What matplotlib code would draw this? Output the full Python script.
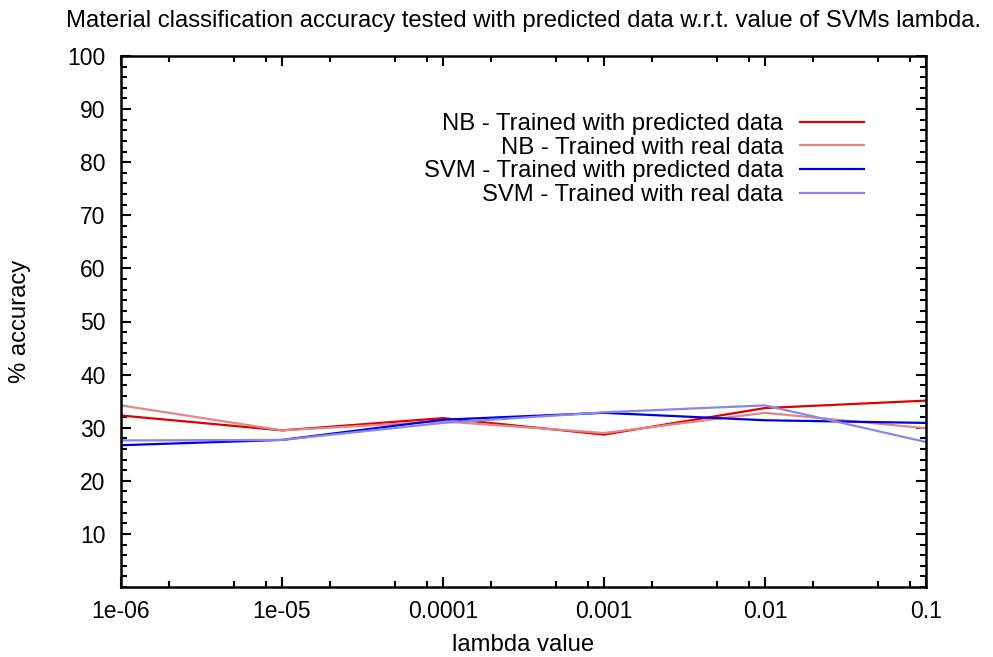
import numpy as np
import matplotlib
matplotlib.use("Agg")
import matplotlib.pyplot as plt
import matplotlib.ticker as mticker

plt.rcParams['font.family'] = ['Liberation Sans', 'DejaVu Sans']

# lambda values of the SVM
lambdas = [1e-06, 1e-05, 1e-04, 1e-03, 1e-02, 1e-01]
tick_labels = ['1e-06', '1e-05', '0.0001', '0.001', '0.01', '0.1']

# % accuracy
nb_pred = [32.3, 29.5, 31.8, 28.7, 33.7, 35.1]
nb_real = [34.2, 29.5, 31.2, 29.0, 32.8, 29.9]
svm_pred = [26.7, 27.7, 31.5, 32.8, 31.4, 30.9]
svm_real = [27.6, 27.7, 30.9, 32.9, 34.2, 27.3]

fs = 17.2

fig = plt.figure(figsize=(9.93, 6.57), dpi=100)
ax = fig.add_axes([121/993, 70/657, 805/993, 531/657])

ax.plot(lambdas, nb_pred, color='#e00000', lw=1.6, label='NB - Trained with predicted data')
ax.plot(lambdas, nb_real, color='#e08888', lw=1.6, label='NB - Trained with real data')
ax.plot(lambdas, svm_pred, color='#0000e0', lw=1.6, label='SVM - Trained with predicted data')
ax.plot(lambdas, svm_real, color='#8888e6', lw=1.6, label='SVM - Trained with real data')

ax.set_xscale('log')
ax.set_xlim(1e-06, 1e-01)
ax.set_ylim(0, 100)

ax.xaxis.set_major_locator(mticker.FixedLocator(lambdas))
ax.xaxis.set_major_formatter(mticker.FixedFormatter(tick_labels))
minors = [m * d for d in lambdas[:-1] for m in (2, 5, 8)]
ax.xaxis.set_minor_locator(mticker.FixedLocator(minors))
ax.xaxis.set_minor_formatter(mticker.NullFormatter())

ax.set_yticks(np.arange(10, 101, 10))
ax.yaxis.set_minor_locator(mticker.MultipleLocator(2))

ax.tick_params(which='both', direction='in', top=True, right=True, labelsize=16.5, width=1.5)
ax.tick_params(which='major', length=7)
ax.tick_params(which='minor', length=4)
ax.tick_params(axis='y', pad=11)
ax.tick_params(axis='x', pad=9)
for s in ax.spines.values():
    s.set_linewidth(1.8)

ax.set_xlabel('lambda value', fontsize=fs, labelpad=8)
ax.set_ylabel('% accuracy', fontsize=fs, labelpad=26)
ax.set_title('Material classification accuracy tested with predicted data w.r.t. value of SVMs lambda.',
             fontsize=fs, pad=21)

ax.legend(loc='upper right', bbox_to_anchor=(864/993, 1 - 113/657), bbox_transform=fig.transFigure,
          frameon=False, markerfirst=False, fontsize=fs, handlelength=2.7,
          handletextpad=0.68, labelspacing=0.07, borderpad=0, borderaxespad=0)

fig.savefig('out.png', dpi=100)
